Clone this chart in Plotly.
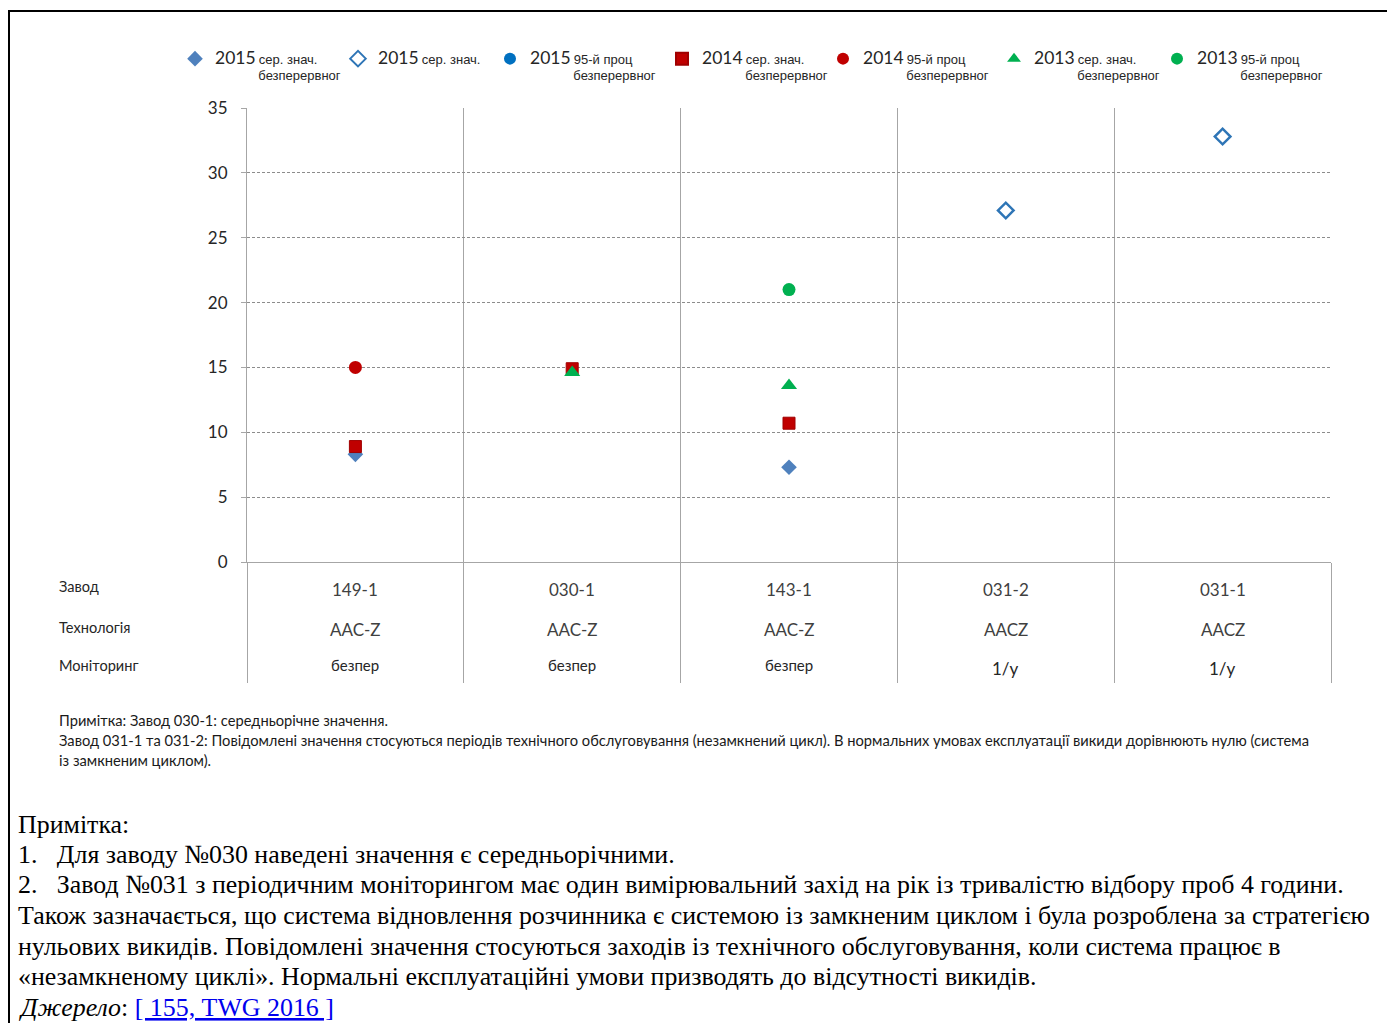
import plotly.graph_objects as go

# ---------------- data ----------------
plants = ["149-1", "030-1", "143-1", "031-2", "031-1"]
technology = ["AAC-Z", "AAC-Z", "AAC-Z", "AACZ", "AACZ"]
monitoring = ["безпер", "безпер", "безпер", "1/y", "1/y"]

s2015_mean_cont = [8.3, None, 7.3, None, None]
s2015_mean = [None, None, None, 27.1, 32.8]
s2015_p95_cont = [None, None, None, None, None]
s2014_mean_cont = [8.9, 14.9, 10.7, None, None]
s2014_p95_cont = [15.0, None, None, None, None]
s2013_mean_cont = [None, 14.6, 13.6, None, None]
s2013_p95_cont = [None, None, 21.0, None, None]

y_ticks = [0, 5, 10, 15, 20, 25, 30, 35]
row_labels = ["Завод", "Технологія", "Моніторинг"]

W, H = 1395, 1023
OFF = 8  # page body margin
SL, SR, ST, SB = 247, 1331, 108, 562  # plot area in screen pixels


def px(xp):
    return (xp - SL) / (SR - SL)


def py(yp):
    return (SB - yp) / (SB - ST)


SMALL = "font-size:13px;font-family:'Liberation Sans',Arial"
NB = "\u00a0"


def leg_name(year, l1, l2=None):
    s = f"<span style=\"font-size:17.5px\">{year}</span> <span style=\"{SMALL}\">{l1}</span>"
    if l2:
        s += f"<br><span style=\"{SMALL}\">{NB * 12}{l2}</span>"
    return s


series = [
    dict(y=s2015_mean_cont, name=leg_name("2015", "сер. знач.", "безперервног"),
         symbol="diamond", color="#4F81BD", line="#4F81BD", size=12, lw=0, mx=197),
    dict(y=s2015_mean, name=leg_name("2015", "сер. знач."),
         symbol="diamond-open", color="#2E75B6", line="#2E75B6", size=12, lw=2.5, mx=360),
    dict(y=s2015_p95_cont, name=leg_name("2015", "95-й проц", "безперервног"),
         symbol="circle", color="#0070C0", line="#0070C0", size=13, lw=0, mx=512),
    dict(y=s2014_mean_cont, name=leg_name("2014", "сер. знач.", "безперервног"),
         symbol="square", color="#C00000", line="#A00000", size=12, lw=1, mx=684),
    dict(y=s2014_p95_cont, name=leg_name("2014", "95-й проц", "безперервног"),
         symbol="circle", color="#C00000", line="#C00000", size=13, lw=0, mx=845),
    dict(y=s2013_mean_cont, name=leg_name("2013", "сер. знач.", "безперервног"),
         symbol="triangle-up", color="#00B050", line="#00B050", size=14, lw=0, mx=1016),
    dict(y=s2013_p95_cont, name=leg_name("2013", "95-й проц", "безперервног"),
         symbol="circle", color="#00B050", line="#00B050", size=13, lw=0, mx=1179),
]

fig = go.Figure()
layout_legends = {}
for i, s in enumerate(series):
    lg = "legend" if i == 0 else f"legend{i + 1}"
    fig.add_trace(go.Scatter(
        x=plants, y=s["y"], mode="markers", name=s["name"], legend=lg,
        marker=dict(symbol=s["symbol"], color=s["color"], size=s["size"],
                    line=dict(color=s["line"], width=s["lw"])),
        cliponaxis=False,
    ))
    layout_legends[lg] = dict(
        x=px(s["mx"] - 2 - 20), xanchor="left", y=py(44), yanchor="top",
        bgcolor="rgba(0,0,0,0)", borderwidth=0, valign="top",
        font=dict(family="Lato", size=12.5, color="#262626"),
        itemsizing="constant", tracegroupgap=0,
    )

annotations = []
for lab, yy in zip(row_labels, [586, 627, 665]):
    annotations.append(dict(text=lab, x=px(57), y=py(yy), xref="paper", yref="paper",
                            xanchor="left", yanchor="middle", showarrow=False,
                            font=dict(family="Lato", size=14.6, color="#262626")))
for p, t, m in zip(plants, technology, monitoring):
    annotations.append(dict(text=p, x=p, y=py(589), xref="x", yref="paper",
                            showarrow=False, yanchor="middle",
                            font=dict(family="Lato", size=17, color="#404040")))
    annotations.append(dict(text=t, x=p, y=py(629), xref="x", yref="paper",
                            showarrow=False, yanchor="middle",
                            font=dict(family="Lato", size=17, color="#404040")))
    big = m == "1/y"
    annotations.append(dict(text=m, x=p, y=py(668 if big else 665), xref="x", yref="paper",
                            showarrow=False, yanchor="middle",
                            font=dict(family="Lato", size=17 if big else 15, color="#262626")))

note_lines = [
    "Примітка: Завод 030-1: середньорічне значення.",
    "Завод 031-1 та 031-2: Повідомлені значення стосуються періодів технічного "
    "обслуговування (незамкнений цикл). В нормальних умовах експлуатації викиди "
    "дорівнюють нулю (система",
    "із замкненим циклом).",
]
for k, line in enumerate(note_lines):
    annotations.append(dict(text=line, x=px(57), y=py(720 + k * 20), xref="paper", yref="paper",
                            xanchor="left", yanchor="middle", align="left", showarrow=False,
                            font=dict(family="Lato", size=14.7, color="#1a1a1a")))

bottom_lines = [
    "Примітка:",
    f"1.{NB * 3}Для заводу №030 наведені значення є середньорічними.",
    f"2.{NB * 3}Завод №031 з періодичним моніторингом має один вимірювальний захід на рік із тривалістю відбору проб 4 години.",
    "Також зазначається, що система відновлення розчинника є системою із замкненим циклом і була розроблена за стратегією",
    "нульових викидів. Повідомлені значення стосуються заходів із технічного обслуговування, коли система працює в",
    "«незамкненому циклі». Нормальні експлуатаційні умови призводять до відсутності викидів.",
    "<i>Джерело</i>: <span style=\"color:#0000EE\"><u>[ 155, TWG 2016 ]</u></span>",
]
for k, line in enumerate(bottom_lines):
    annotations.append(dict(text=line, x=px(16), y=py(824 + k * 30.5), xref="paper", yref="paper",
                            xanchor="left", yanchor="middle", align="left", showarrow=False,
                            font=dict(family="Liberation Serif", size=25.9, color="#000000")))

shapes = [
    dict(type="line", xref="paper", yref="paper", x0=px(8), x1=px(1410), y0=py(11), y1=py(11),
         line=dict(color="#000000", width=2)),
    dict(type="line", xref="paper", yref="paper", x0=px(9), x1=px(9), y0=py(10), y1=py(1040),
         line=dict(color="#000000", width=2)),
]

fig.update_layout(
    width=W, height=H,
    margin=dict(l=SL - OFF, r=W - (SR - OFF), t=ST - OFF, b=H - (SB - OFF), pad=0),
    paper_bgcolor="white", plot_bgcolor="white",
    showlegend=True,
    annotations=annotations,
    shapes=shapes,
    **layout_legends,
)
fig.update_xaxes(
    type="category", categoryorder="array", categoryarray=plants,
    range=[-0.5, 4.5], tickson="boundaries",
    showgrid=True, gridcolor="#A6A6A6", gridwidth=1,
    ticks="outside", ticklen=120, tickcolor="#A6A6A6", tickwidth=1,
    showticklabels=False, showline=True, linecolor="#A6A6A6", linewidth=1,
    zeroline=False, fixedrange=True,
)
fig.update_yaxes(
    range=[0, 35], tickvals=y_ticks, ticktext=[str(v) for v in y_ticks],
    showgrid=True, gridcolor="#8C8C8C", griddash="3px,2px", gridwidth=1,
    ticks="outside", ticklen=5, tickcolor="#A6A6A6",
    showline=True, linecolor="#A6A6A6", zeroline=False,
    tickfont=dict(family="Lato", size=17, color="#262626"),
    ticklabelstandoff=10,
)

fig.write_html("out.html")
